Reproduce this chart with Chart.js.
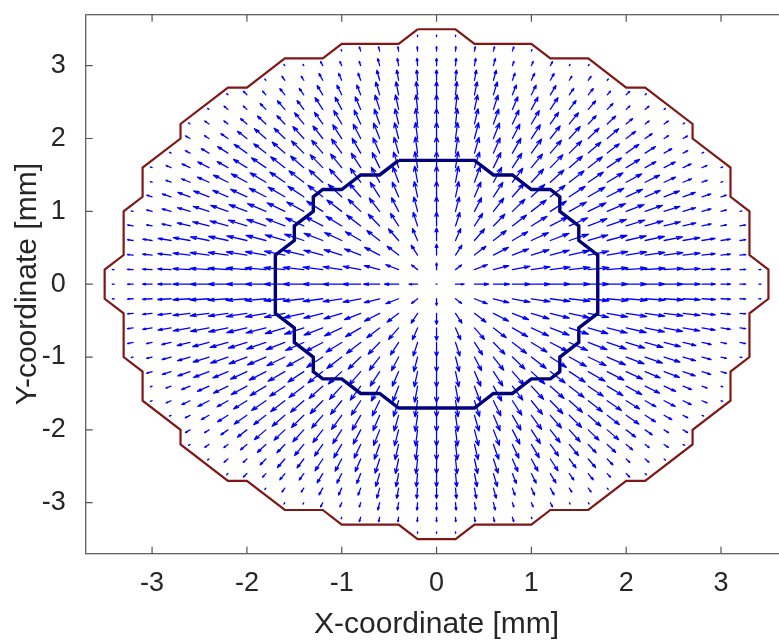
<!DOCTYPE html>
<html><head><meta charset="utf-8">
<script src="https://cdn.jsdelivr.net/npm/chart.js@4.4.1/dist/chart.umd.min.js"></script>
<style>
html,body{margin:0;padding:0;background:#fff;overflow:hidden;width:779px;height:642px}
#wrap{position:absolute;left:0;top:0;width:800px;height:642px}
</style>
</head><body><div id="wrap"><canvas id="c" width="800" height="642"></canvas></div>
<script>
// ---- data ----
const xGrid = [-3.4,-3.2,-3.0,-2.8,-2.6,-2.4,-2.2,-2.0,-1.8,-1.6,-1.4,-1.2,-1.0,-0.8,-0.6,-0.4,-0.2,0,0.2,0.4,0.6,0.8,1.0,1.2,1.4,1.6,1.8,2.0,2.2,2.4,2.6,2.8,3.0,3.2,3.4];
const yGrid = [-3.4,-3.2,-3.0,-2.8,-2.6,-2.4,-2.2,-2.0,-1.8,-1.6,-1.4,-1.2,-1.0,-0.8,-0.6,-0.4,-0.2,0,0.2,0.4,0.6,0.8,1.0,1.2,1.4,1.6,1.8,2.0,2.2,2.4,2.6,2.8,3.0,3.2,3.4];
// arrow length (mm, as drawn) at each radius from the centre; arrows point radially outward
const radiusSteps = [0,0.2,0.4,0.6,0.8,1.0,1.2,1.4,1.6,1.8,2.0,2.2,2.4,2.6,2.8,3.0,3.2,3.4];
const arrowLength = [0,0.09,0.15,0.17,0.19,0.20,0.21,0.22,0.22,0.22,0.22,0.21,0.20,0.18,0.14,0.10,0.06,0.02];

const outerX = [-0.2,0.2,0.4,1.0,1.2,1.6,2.0,2.2,2.7,2.7,3.1,3.1,3.3,3.3,3.5,3.5,3.3,3.3,3.1,3.1,2.7,2.7,2.2,2.0,1.6,1.2,1.0,0.4,0.2,-0.2,-0.4,-1.0,-1.2,-1.6,-2.0,-2.2,-2.7,-2.7,-3.1,-3.1,-3.3,-3.3,-3.5,-3.5,-3.3,-3.3,-3.1,-3.1,-2.7,-2.7,-2.2,-2.0,-1.6,-1.2,-1.0,-0.4,-0.2];
const outerY = [3.5,3.5,3.3,3.3,3.1,3.1,2.7,2.7,2.2,2.0,1.6,1.2,1.0,0.4,0.2,-0.2,-0.4,-1.0,-1.2,-1.6,-2.0,-2.2,-2.7,-2.7,-3.1,-3.1,-3.3,-3.3,-3.5,-3.5,-3.3,-3.3,-3.1,-3.1,-2.7,-2.7,-2.2,-2.0,-1.6,-1.2,-1.0,-0.4,-0.2,0.2,0.4,1.0,1.2,1.6,2.0,2.2,2.7,2.7,3.1,3.1,3.3,3.3,3.5];

const innerX = [-0.4,0.4,0.6,0.8,1.0,1.2,1.3,1.3,1.5,1.5,1.7,1.7,1.5,1.5,1.3,1.3,1.2,1.0,0.8,0.6,0.4,-0.4,-0.6,-0.8,-1.0,-1.2,-1.3,-1.3,-1.5,-1.5,-1.7,-1.7,-1.5,-1.5,-1.3,-1.3,-1.2,-1.0,-0.8,-0.6,-0.4];
const innerY = [1.7,1.7,1.5,1.5,1.3,1.3,1.2,1.0,0.8,0.6,0.4,-0.4,-0.6,-0.8,-1.0,-1.2,-1.3,-1.3,-1.5,-1.5,-1.7,-1.7,-1.5,-1.5,-1.3,-1.3,-1.2,-1.0,-0.8,-0.6,-0.4,0.4,0.6,0.8,1.0,1.2,1.3,1.3,1.5,1.5,1.7];

const xTicks = [-3,-2,-1,0,1,2,3];
const yTicks = [-3,-2,-1,0,1,2,3];
const xLabel = 'X-coordinate [mm]';
const yLabel = 'Y-coordinate [mm]';

// ---- build datasets ----
function inside(px, py, xs, ys) {
  let c = false;
  for (let i = 0, j = xs.length - 1; i < xs.length; j = i++) {
    if (((ys[i] > py) !== (ys[j] > py)) &&
        (px < (xs[j] - xs[i]) * (py - ys[i]) / (ys[j] - ys[i]) + xs[i])) c = !c;
  }
  return c;
}
function lengthAt(r) {
  let best = 0;
  for (let i = 1; i < radiusSteps.length; i++)
    if (Math.abs(radiusSteps[i] - r) < Math.abs(radiusSteps[best] - r)) best = i;
  return arrowLength[best];
}
const arrows = [];
for (const gy of yGrid) for (const gx of xGrid) {
  if (!inside(gx, gy, outerX, outerY)) continue;
  const r = Math.hypot(gx, gy);
  const L = lengthAt(r);
  arrows.push({x: gx, y: gy, u: r > 0 ? L * gx / r : 0, v: r > 0 ? L * gy / r : 0});
}
const outerPts = outerX.map((x, i) => ({x, y: outerY[i]}));
const innerPts = innerX.map((x, i) => ({x, y: innerY[i]}));

const FONT = "'Liberation Sans', Arial, Helvetica, sans-serif";
const TXT = '#262626';

const quiver = {
  id: 'quiver',
  beforeDatasetsDraw(chart) {
    const xs = chart.scales.x, ys = chart.scales.y, ctx = chart.ctx, a = chart.chartArea;
    ctx.save();
    ctx.beginPath(); ctx.rect(a.left, a.top, a.right - a.left, a.bottom - a.top); ctx.clip();
    ctx.strokeStyle = '#0000ff'; ctx.lineWidth = 1.3; ctx.lineCap = 'round'; ctx.lineJoin = 'round';
    const alpha = 0.3, beta = 0.32;
    ctx.beginPath();
    for (const p of chart.data.datasets[0].data) {
      const X = v => xs.getPixelForValue(v), Y = v => ys.getPixelForValue(v);
      if (p.u === 0 && p.v === 0) { ctx.moveTo(X(p.x) - 0.5, Y(p.y)); ctx.lineTo(X(p.x) + 0.5, Y(p.y)); continue; }
      const tx = p.x + p.u, ty = p.y + p.v;
      ctx.moveTo(X(p.x), Y(p.y)); ctx.lineTo(X(tx), Y(ty));
      ctx.moveTo(X(tx - alpha * (p.u + beta * p.v)), Y(ty - alpha * (p.v - beta * p.u)));
      ctx.lineTo(X(tx), Y(ty));
      ctx.lineTo(X(tx - alpha * (p.u - beta * p.v)), Y(ty - alpha * (p.v + beta * p.u)));
    }
    ctx.stroke();
    ctx.restore();
  }
};
const frame = {
  id: 'frame',
  afterDraw(chart) {
    const ctx = chart.ctx, a = chart.chartArea, xs = chart.scales.x, ys = chart.scales.y;
    ctx.save();
    ctx.strokeStyle = '#555555'; ctx.lineWidth = 1.2;
    ctx.strokeRect(a.left, a.top, a.right - a.left, a.bottom - a.top);
    ctx.beginPath();
    const tl = 7;
    for (const t of xs.ticks) {
      const px = xs.getPixelForValue(t.value);
      ctx.moveTo(px, a.bottom); ctx.lineTo(px, a.bottom - tl);
      ctx.moveTo(px, a.top); ctx.lineTo(px, a.top + tl);
    }
    for (const t of ys.ticks) {
      const py = ys.getPixelForValue(t.value);
      ctx.moveTo(a.left, py); ctx.lineTo(a.left + tl, py);
      ctx.moveTo(a.right, py); ctx.lineTo(a.right - tl, py);
    }
    ctx.stroke();
    ctx.restore();
  }
};

new Chart(document.getElementById('c'), {
  type: 'scatter',
  data: {
    datasets: [
      {data: arrows, pointRadius: 0, showLine: false},
      {data: outerPts, showLine: true, borderColor: '#801616', borderWidth: 2.2, pointRadius: 0, fill: false},
      {data: innerPts, showLine: true, borderColor: '#00007a', borderWidth: 3.4, pointRadius: 0, fill: false}
    ]
  },
  options: {
    responsive: false, animation: false, devicePixelRatio: 1,
    layout: {padding: {top: 14.7, right: 12.6, left: 0, bottom: 0}},
    plugins: {legend: {display: false}, tooltip: {enabled: false}},
    scales: {
      x: {
        type: 'linear', position: 'bottom', min: -3.7, max: 3.7,
        grid: {display: false, drawTicks: false}, border: {display: false},
        afterBuildTicks: s => { s.ticks = xTicks.map(v => ({value: v})); },
        afterFit: s => { s.height = 642 - 553.7; s.paddingLeft = 0; s.paddingRight = 0; },
        ticks: {font: {family: FONT, size: 27}, color: TXT, padding: 14, maxRotation: 0, callback: v => String(v)},
        title: {display: true, text: xLabel, font: {family: FONT, size: 30, lineHeight: 1}, color: TXT, padding: {top: 0, bottom: 2}}
      },
      y: {
        type: 'linear', position: 'left', min: -3.7, max: 3.7,
        grid: {display: false, drawTicks: false}, border: {display: false},
        afterBuildTicks: s => { s.ticks = yTicks.map(v => ({value: v})); },
        afterFit: s => { s.width = 85.7; s.paddingTop = 0; s.paddingBottom = 0; },
        ticks: {font: {family: FONT, size: 27}, color: TXT, padding: 20, callback: v => String(v)},
        title: {display: true, text: yLabel, font: {family: FONT, size: 30, lineHeight: 1}, color: TXT, padding: {top: 13, bottom: 0}}
      }
    }
  },
  plugins: [quiver, frame]
});
</script>
</body></html>
